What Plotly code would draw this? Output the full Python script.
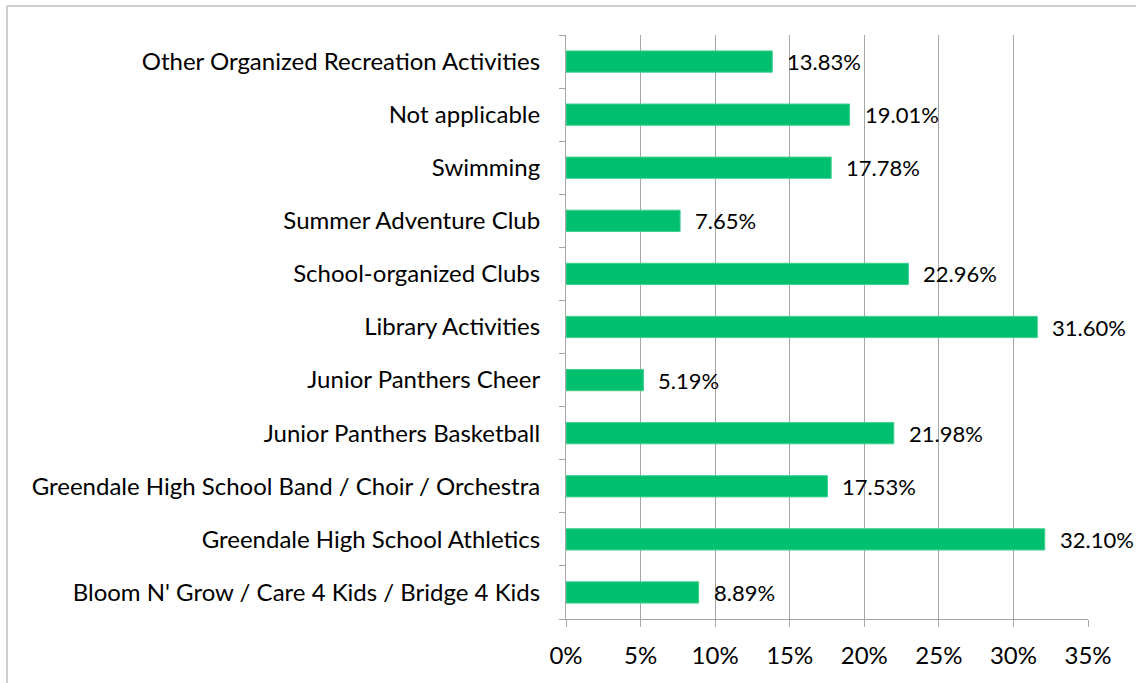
import plotly.graph_objects as go

categories = [
    "Bloom N' Grow / Care 4 Kids / Bridge 4 Kids",
    "Greendale High School Athletics",
    "Greendale High School Band / Choir / Orchestra",
    "Junior Panthers Basketball",
    "Junior Panthers Cheer",
    "Library Activities",
    "School-organized Clubs",
    "Summer Adventure Club",
    "Swimming",
    "Not applicable",
    "Other Organized Recreation Activities",
]
values = [8.89, 32.10, 17.53, 21.98, 5.19, 31.60, 22.96, 7.65, 17.78, 19.01, 13.83]
x_ticks = [0, 5, 10, 15, 20, 25, 30, 35]
x_tick_labels = [f"{v}%" for v in x_ticks]

FONT = "Lato, 'Open Sans', sans-serif"
FS = 24
GREEN = "#00BF6F"
GRID = "#A6A6A6"

fig = go.Figure()
fig.add_trace(go.Bar(
    x=values, y=categories, orientation="h",
    marker=dict(color=GREEN, line=dict(color="#3fd08f", width=1)),
    width=0.4,
    hoverinfo="x+y",
))

for c, v in zip(categories, values):
    fig.add_annotation(
        x=v, y=c, text=f"{v:.2f}%", showarrow=False,
        xanchor="left", yanchor="middle", xshift=13,
        font=dict(family=FONT, size=22, color="#000000"),
    )

fig.update_layout(
    width=1136, height=683,
    margin=dict(l=566, r=48, t=35, b=64),
    paper_bgcolor="white", plot_bgcolor="white",
    showlegend=False,
    font=dict(family=FONT, size=FS, color="#000000"),
    xaxis=dict(
        range=[0, 35], tickvals=x_ticks, ticktext=x_tick_labels,
        showgrid=True, gridcolor=GRID, gridwidth=1,
        showline=True, linecolor=GRID, linewidth=1,
        ticks="outside", ticklen=7, tickcolor=GRID,
        ticklabelstandoff=8,
        zeroline=False, fixedrange=True,
    ),
    yaxis=dict(
        categoryorder="array", categoryarray=categories,
        showline=True, linecolor=GRID, linewidth=1,
        ticks="outside", ticklen=6, tickcolor=GRID, tickson="boundaries",
        ticklabelstandoff=20,
        showgrid=False, fixedrange=True,
    ),
    shapes=[
        dict(type="line", xref="paper", yref="paper",
             x0=-1.0709, x1=1.2, y0=1.0497, y1=1.0497,
             line=dict(color="#BFBFBF", width=1.5)),
        dict(type="line", xref="paper", yref="paper",
             x0=-1.0709, x1=-1.0709, y0=1.0497, y1=-0.2,
             line=dict(color="#BFBFBF", width=1.5)),
    ],
)

fig.write_html(
    "out.html",
    config={"displayModeBar": False},
    post_script="document.body.style.margin='0';document.body.style.overflow='hidden';",
)
